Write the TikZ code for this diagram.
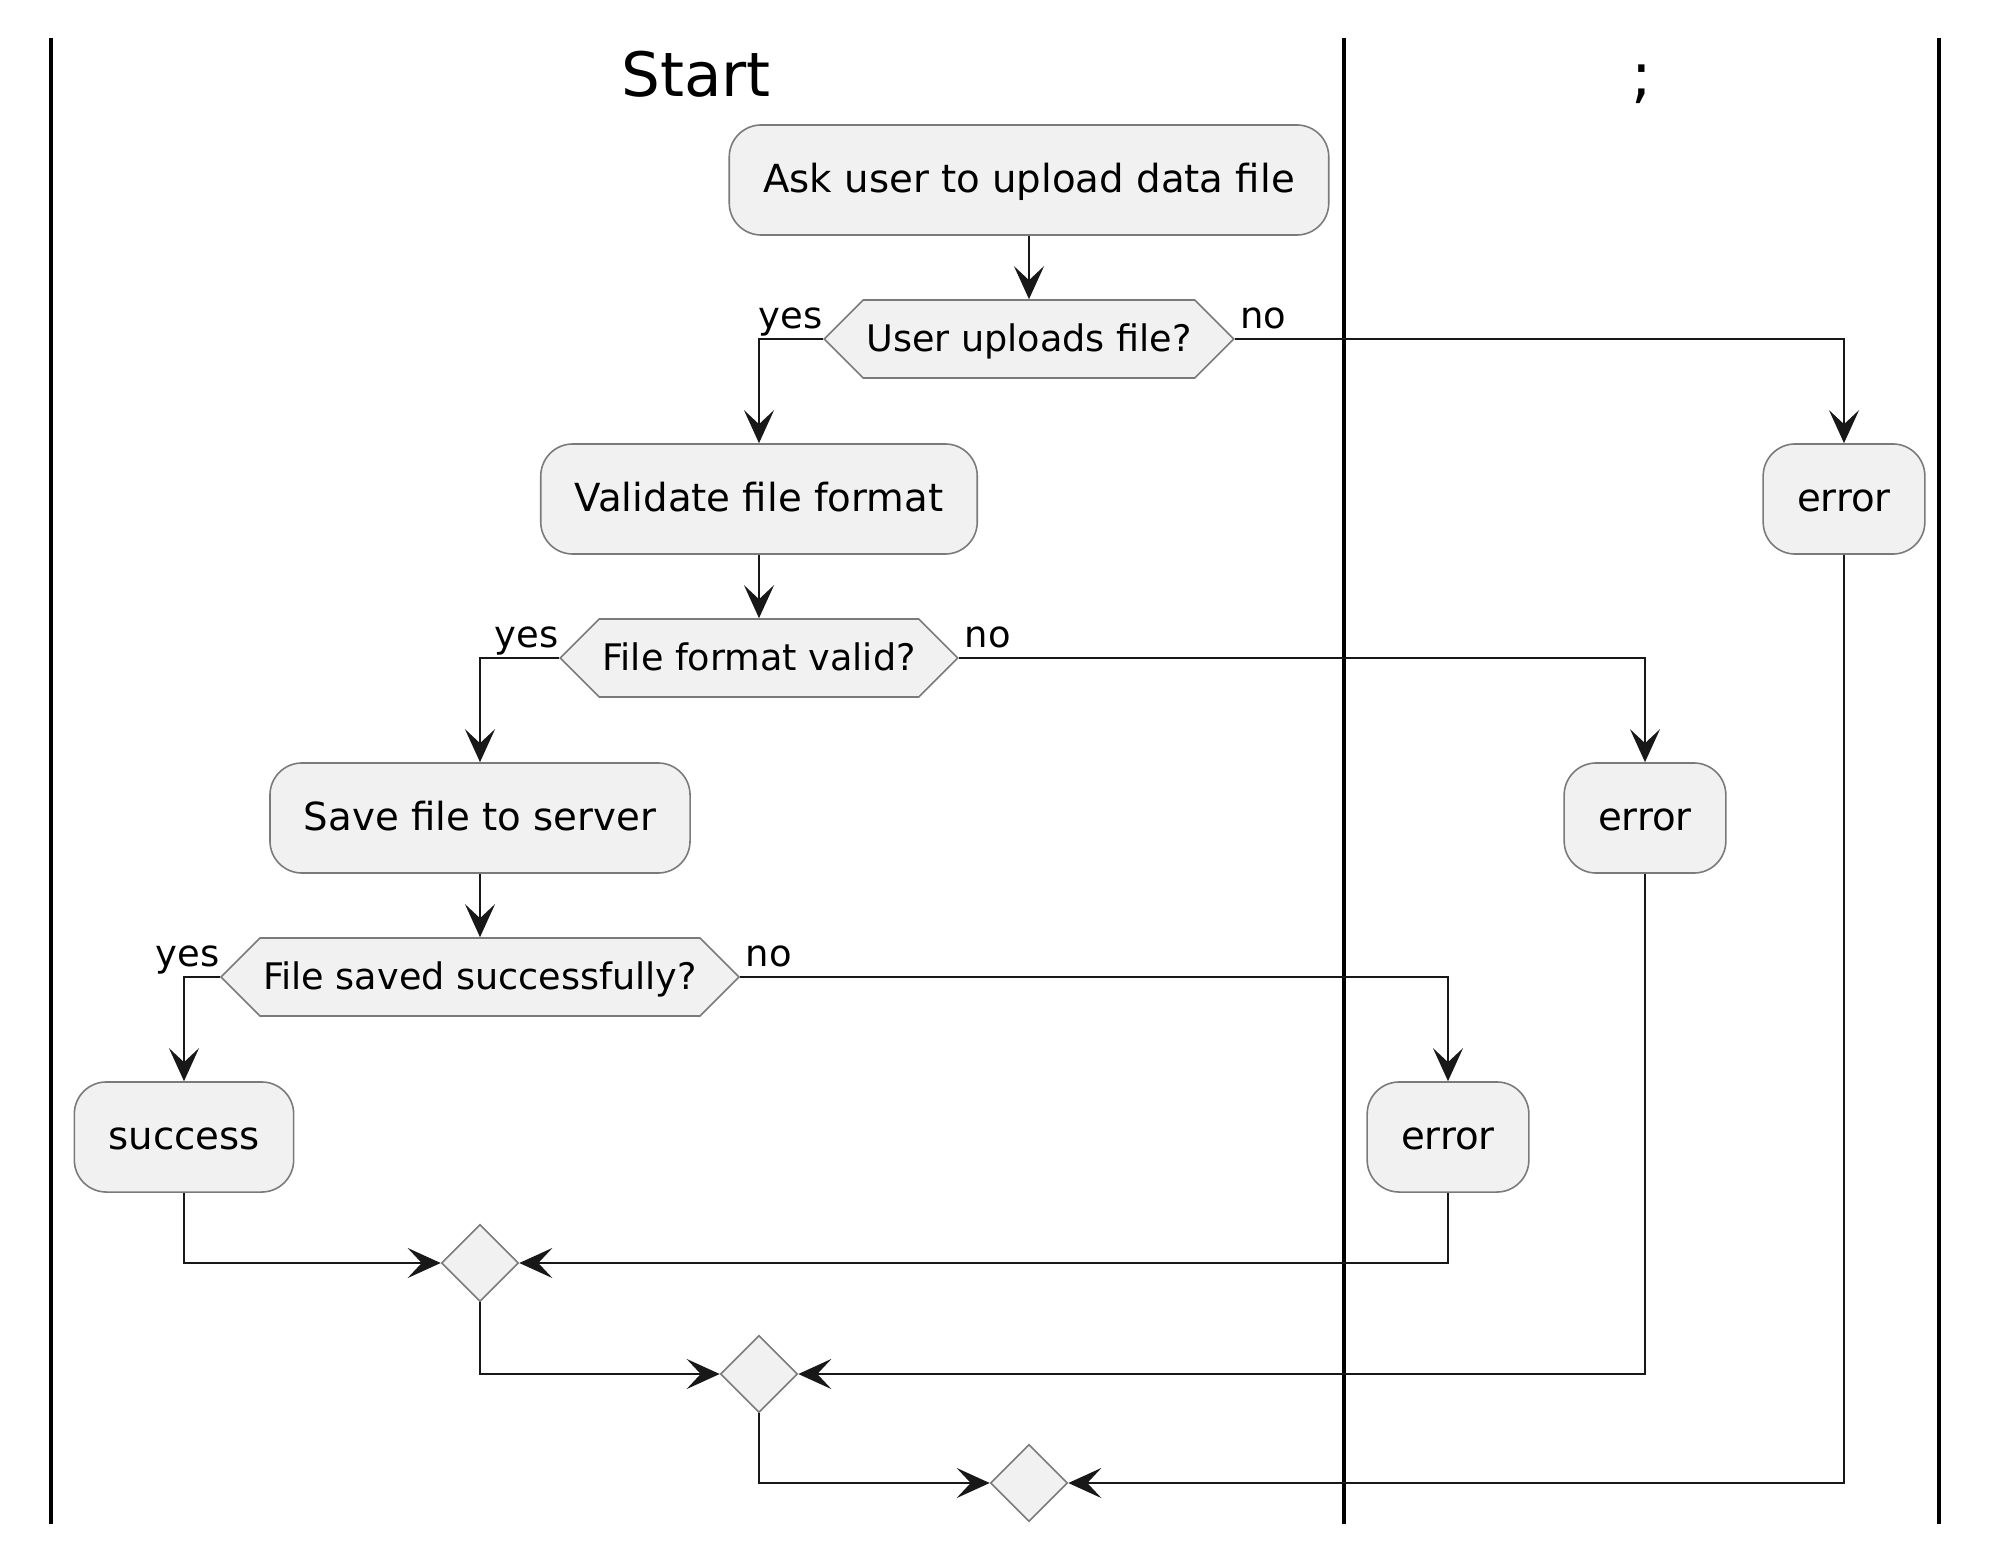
\documentclass[tikz,border=0pt]{standalone}
\usepackage{fontspec}
\setmainfont{DejaVu Sans}
\usepackage{tikz}
\usetikzlibrary{positioning,arrows.meta,shapes.geometric,shapes.symbols}
\definecolor{actfill}{HTML}{F1F1F1}
\definecolor{actline}{HTML}{7A7A7A}
\definecolor{flowline}{HTML}{181818}

\begin{document}
\begin{tikzpicture}[x=0.01cm,y=-0.01cm,
    flow/.style={draw=flowline,line width=0.7pt,-{Stealth[length=3.3mm,width=3mm,inset=1.4mm]}},
    lane/.style={line width=1.1pt},
    act node/.style={rectangle,rounded corners=3.2mm,draw=actline,line width=0.45pt,fill=actfill,
        minimum height=1.1cm,inner xsep=3.4mm,text height=0.93em,text depth=0.24em,
        font=\fontsize{11}{13}\selectfont},
    cond node/.style={signal,signal to=east and west,signal pointer angle=90,draw=actline,line width=0.45pt,
        fill=actfill,minimum height=0.78cm,inner xsep=0.3mm,text height=0.93em,text depth=0.24em,
        font=\fontsize{10.4}{12}\selectfont},
    merge node/.style={diamond,aspect=1,draw=actline,line width=0.45pt,fill=actfill,minimum size=0.77cm,inner sep=0pt},
    lbl/.style={font=\fontsize{10.5}{12}\selectfont,inner sep=0pt},
    title/.style={font=\fontsize{17.4}{20}\selectfont,anchor=base}]
\useasboundingbox (0,0) rectangle (2000,1558);
%Lanes
    \draw[lane] (51,38) -- (51,1524);
    \draw[lane] (1344,38) -- (1344,1524);
    \draw[lane] (1939,38) -- (1939,1524);
    \node[title] (T1) at (696,97) {Start};
    \node[title] (T2) at (1642,97) {;};
%Nodes
    \node[act node] (Ask) at (1029,180) {Ask user to upload data file};
    \node[cond node] (Q1) at (1029,339) {User uploads file?};
    \node[act node] (Val) at (759,499) {Validate file format};
    \node[act node] (Err1) at (1844,499) {error};
    \node[cond node] (Q2) at (759,658) {File format valid?};
    \node[act node] (Save) at (480,818) {Save file to server};
    \node[act node] (Err2) at (1645,818) {error};
    \node[cond node] (Q3) at (480,977) {File saved successfully?};
    \node[act node] (Succ) at (184,1137) {success};
    \node[act node] (Err3) at (1448,1137) {error};
    \node[merge node] (M1) at (480,1263) {};
    \node[merge node] (M2) at (759,1374) {};
    \node[merge node] (M3) at (1029,1483) {};
%Lines
    \draw[flow] (Ask.south) -- (Q1.north);
    \draw[flow] (Q1.west) -| (Val.north);
    \draw[flow] (Q1.east) -| (Err1.north);
    \draw[flow] (Val.south) -- (Q2.north);
    \draw[flow] (Q2.west) -| (Save.north);
    \draw[flow] (Q2.east) -| (Err2.north);
    \draw[flow] (Save.south) -- (Q3.north);
    \draw[flow] (Q3.west) -| (Succ.north);
    \draw[flow] (Q3.east) -| (Err3.north);
    \draw[flow] (Succ.south) |- (M1.west);
    \draw[flow] (Err3.south) |- (M1.east);
    \draw[flow] (M1.south) |- (M2.west);
    \draw[flow] (Err2.south) |- (M2.east);
    \draw[flow] (M2.south) |- (M3.west);
    \draw[flow] (Err1.south) |- (M3.east);
%Labels
    \node[lbl,anchor=base east] at ([yshift=1mm]Q1.west) {yes};
    \node[lbl,anchor=base west] at ([xshift=0.5mm,yshift=1mm]Q1.east) {no};
    \node[lbl,anchor=base east] at ([yshift=1mm]Q2.west) {yes};
    \node[lbl,anchor=base west] at ([xshift=0.5mm,yshift=1mm]Q2.east) {no};
    \node[lbl,anchor=base east] at ([yshift=1mm]Q3.west) {yes};
    \node[lbl,anchor=base west] at ([xshift=0.5mm,yshift=1mm]Q3.east) {no};
\end{tikzpicture}
\end{document}
